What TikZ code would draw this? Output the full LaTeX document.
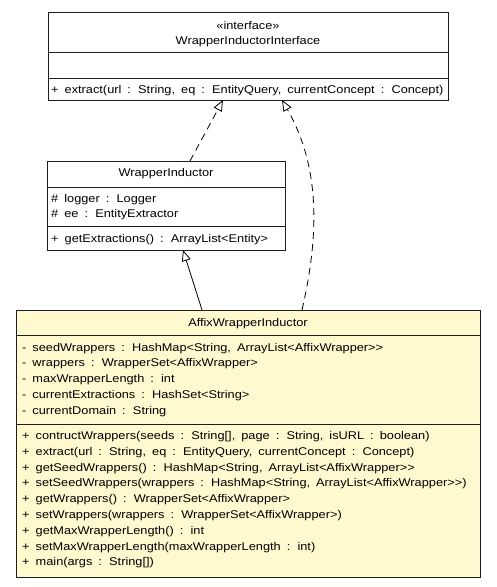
\documentclass[tikz,border=0pt]{standalone}
\usepackage{fontspec}
\setmainfont{Liberation Sans}[FakeStretch=1.14, WordSpace=1.7]
\usetikzlibrary{arrows.meta}

\definecolor{classfill}{RGB}{255,249,208}
\definecolor{edgegray}{RGB}{30,30,30}

\tikzset{
  classbox/.style={draw=edgegray, line width=1pt, inner sep=0pt, anchor=north west},
  sepline/.style={draw=edgegray, line width=1pt},
  umltext/.style={inner sep=0pt, font=\fontsize{11.2}{14}\selectfont},
  member/.style={umltext, anchor=base west},
  title/.style={umltext, anchor=base},
  hollowtip/.style={-{Triangle[open, length=11pt, width=9pt, fill=white]}},
  realizes/.style={hollowtip, draw=black, line width=0.8pt, dash pattern=on 7pt off 5pt},
  extends/.style={hollowtip, draw=black, line width=0.8pt},
}

\begin{document}
\begin{tikzpicture}[x=1pt, y=-1pt]
  \useasboundingbox (0,0) rectangle (496,587);

  % interface WrapperInductorInterface
  \node (iface) [classbox, fill=white, minimum width=400pt, minimum height=88pt] at (48,12) {};
  \draw[sepline] (48,52) -- (448,52);
  \draw[sepline] (48,78) -- (448,78);
  \node (ifaceStereo) [title] at (248,29) {«interface»};
  \node (ifaceName) [title] at (248,44.5) {WrapperInductorInterface};
  \node (ifaceOp) [member] at (51,93) {+ extract(url : String, eq : EntityQuery, currentConcept : Concept)};

  % class WrapperInductor
  \node (wi) [classbox, fill=white, minimum width=238pt, minimum height=89pt] at (47,161) {};
  \draw[sepline] (47,187) -- (285,187);
  \draw[sepline] (47,226) -- (285,226);
  \node (wiName) [title] at (166,176.5) {WrapperInductor};
  \node (wiA1) [member] at (51,202) {\# logger : Logger};
  \node (wiA2) [member] at (51,217.5) {\# ee : EntityExtractor};
  \node (wiO1) [member] at (51,242) {+ getExtractions() : ArrayList<Entity>};

  % class AffixWrapperInductor
  \node (awi) [classbox, fill=classfill, minimum width=464pt, minimum height=267pt] at (16,310) {};
  \draw[sepline] (16,335) -- (480,335);
  \draw[sepline] (16,424) -- (480,424);
  \node (awiName) [title] at (248,326.5) {AffixWrapperInductor};
  \node (awiA1) [member] at (22,351) {- seedWrappers : HashMap<String, ArrayList<AffixWrapper>{}>};
  \node (awiA2) [member] at (22,366.8) {- wrappers : WrapperSet<AffixWrapper>};
  \node (awiA3) [member] at (22,382.6) {- maxWrapperLength : int};
  \node (awiA4) [member] at (22,398.4) {- currentExtractions : HashSet<String>};
  \node (awiA5) [member] at (22,414.2) {- currentDomain : String};
  \node (awiO1) [member] at (22,439.5) {+ contructWrappers(seeds : String[], page : String, isURL : boolean)};
  \node (awiO2) [member] at (22,455.3) {+ extract(url : String, eq : EntityQuery, currentConcept : Concept)};
  \node (awiO3) [member] at (22,471.1) {+ getSeedWrappers() : HashMap<String, ArrayList<AffixWrapper>{}>};
  \node (awiO4) [member] at (22,486.9) {+ setSeedWrappers(wrappers : HashMap<String, ArrayList<AffixWrapper>{}>)};
  \node (awiO5) [member] at (22,502.7) {+ getWrappers() : WrapperSet<AffixWrapper>};
  \node (awiO6) [member] at (22,518.5) {+ setWrappers(wrappers : WrapperSet<AffixWrapper>)};
  \node (awiO7) [member] at (22,534.3) {+ getMaxWrapperLength() : int};
  \node (awiO8) [member] at (22,550.1) {+ setMaxWrapperLength(maxWrapperLength : int)};
  \node (awiO9) [member] at (22,565.9) {+ main(args : String[])};

  % connector end points on the box borders
  \coordinate (ifaceInA) at (223,100);
  \coordinate (ifaceInB) at (282,100);
  \coordinate (wiOut) at (190,161);
  \coordinate (wiIn) at (183,250);
  \coordinate (awiOutA) at (202,310);
  \coordinate (awiOutB) at (302,310);

  % relations
  \draw[realizes] (wiOut) -- (ifaceInA);
  \draw[extends] (awiOutA) -- (wiIn);
  \draw[realizes] (awiOutB) .. controls (318,240) and (322,170) .. (ifaceInB);
\end{tikzpicture}
\end{document}
